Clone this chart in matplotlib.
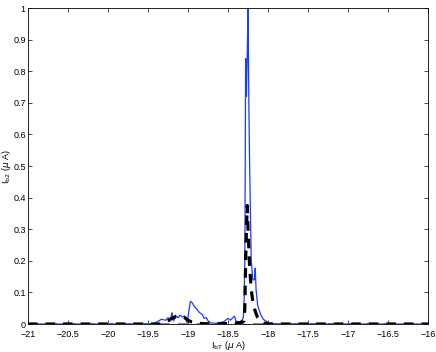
import numpy as np
import matplotlib
matplotlib.use("Agg")
import matplotlib.pyplot as plt

plt.rcParams["font.family"] = ["Liberation Sans", "DejaVu Sans"]

# blue curve (total)
x_blue = [-21.0, -19.5, -19.42, -19.38, -19.33, -19.28, -19.25, -19.22, -19.2, -19.18,
          -19.15, -19.12, -19.1, -19.07, -19.05, -19.03, -19.01, -18.99, -18.97, -18.95,
          -18.92, -18.9, -18.87, -18.85, -18.82, -18.8, -18.77, -18.75, -18.72, -18.7,
          -18.65, -18.6, -18.55, -18.5, -18.47, -18.44, -18.42, -18.4, -18.37, -18.33,
          -18.31, -18.3, -18.29, -18.28, -18.27, -18.26, -18.25, -18.24, -18.23, -18.21,
          -18.19, -18.17, -18.16, -18.15, -18.13, -18.1, -18.06, -18.0, -17.95, -17.9, -16.0]
y_blue = [0.0, 0.0, 0.002, 0.008, 0.015, 0.012, 0.02, 0.015, 0.036, 0.01,
          0.025, 0.02, 0.028, 0.022, 0.025, 0.018, 0.004, 0.04, 0.072, 0.068,
          0.055, 0.05, 0.04, 0.035, 0.03, 0.018, 0.02, 0.01, 0.004, 0.003,
          0.002, 0.004, 0.008, 0.018, 0.012, 0.02, 0.025, 0.01, 0.006, 0.01,
          0.02, 0.06, 0.2, 0.84, 0.72, 0.85, 1.0, 0.7, 0.5, 0.2,
          0.14, 0.14, 0.177, 0.11, 0.06, 0.035, 0.015, 0.005, 0.002, 0.0, 0.0]

# black dashed curve
x_black = [-21.0, -19.35, -19.3, -19.25, -19.2, -19.15, -19.1, -19.05, -19.0, -18.95,
           -18.9, -18.8, -18.6, -18.45, -18.35, -18.3, -18.29, -18.28, -18.27, -18.26,
           -18.25, -18.23, -18.21, -18.19, -18.16, -18.13, -18.1, -18.05, -18.0, -16.0]
y_black = [0.0, 0.0, 0.003, 0.01, 0.018, 0.024, 0.026, 0.022, 0.012, 0.006,
           0.003, 0.001, 0.001, 0.002, 0.004, 0.01, 0.05, 0.2, 0.3, 0.375,
           0.3, 0.18, 0.11, 0.07, 0.04, 0.02, 0.01, 0.003, 0.0, 0.0]

# gray dashed baseline
x_gray = [-21.0, -16.0]
y_gray = [0.0, 0.0]

xticks = np.arange(-21, -15.99, 0.5)
yticks = np.arange(0, 1.01, 0.1)

fig = plt.figure(figsize=(4.36, 3.52), dpi=100)
ax = fig.add_axes([0.064, 0.0795, 0.918, 0.8975])

ax.plot(x_gray, y_gray, color="0.55", lw=1.5, ls=(0, (5, 4)))
ax.plot(x_blue, y_blue, color="#1a3cff", lw=0.9)
ax.plot(x_black, y_black, color="k", lw=2.3, ls=(0, (3, 2.5)))

ax.set_xlim(-21, -16)
ax.set_ylim(0, 1)
ax.set_xticks(xticks)
ax.set_yticks(yticks)
ax.set_xticklabels(["\u2212%g" % -t for t in xticks])
ax.set_yticklabels(["%g" % t for t in yticks])
ax.tick_params(direction="in", top=True, right=True, labelsize=6.5, length=3, width=0.5, pad=1.5)
ax.tick_params(axis="x", pad=4)
for s in ax.spines.values():
    s.set_linewidth(0.6)

ax.set_xlabel(r"I$_{\rm bT}$ ($\mu$ A)", fontsize=6.5, labelpad=0)
ax.set_ylabel(r"I$_{\rm b2}$ ($\mu$ A)", fontsize=6.5, labelpad=0)

fig.savefig("out.png", dpi=100)
